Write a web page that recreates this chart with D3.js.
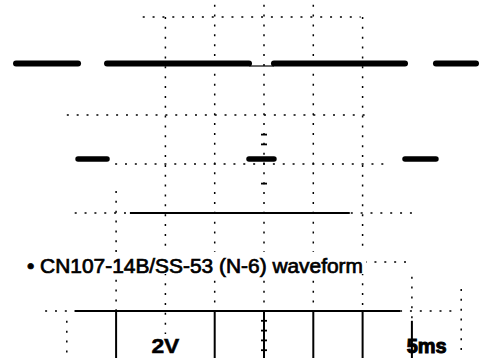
<!DOCTYPE html>
<html>
<head>
<meta charset="utf-8">
<script src="https://cdn.jsdelivr.net/npm/d3@7"></script>
<style>
  html, body { margin: 0; padding: 0; background: #fff; }
  svg { display: block; }
</style>
</head>
<body>
<svg id="scope"></svg>
<script>
// waveform: step edges in ms, level in volts between consecutive edges
const stepTimes = [-25.15, -18.86, -15.92, -1.52, 1.01, 14.30, 17.44, 21.50];
const stepVolts = [4.1, 0.2, 4.1, 0.2, 4.1, 0.2, 4.1];

// graticule (5 ms/div, 2 V/div)
const timeDivs = [-20, -15, -10, -5, 0, 5, 10, 15, 20];
const voltDivs = [6, 4, 2, 0, -2, -4, -6];

// readout labels
const voltsPerDiv = "2V";
const timePerDiv = "5ms";
const caption = "• CN107-14B/SS-53 (N-6) waveform";

const W = 489, H = 358;
const svg = d3.select("#scope").attr("width", W).attr("height", H);

const x = d3.scaleLinear().domain([-25, 25]).range([17.5, 510.5]);
const y = d3.scaleLinear().domain([-6, 6]).range([311, 17]);

// what survived of each graticule line in the print (data units)
const vVis = {
  "-20": { dot: [-6.4, -8] },
  "-15": { dot: [-1.1, -6], solid: [-6, -8] },
  "-10": { dot: [6, -8] },
  "-5":  { dot: [6.5, -6], solid: [-6, -8] },
  "0":   { dot: [6.5, -6], solid: [-6, -8] },
  "5":   { dot: [6.5, -6], solid: [-6, -8] },
  "10":  { dot: [6, -6], solid: [-6, -8] },
  "15":  { dot: [-4.6, -6.4], solid: [-6.4, -8] },
  "20":  { dot: [-5.1, -8] }
};
const hVis = {
  "6":  { dot: [-12.3, 9.8] },
  "4":  { thin: [-1.5, 1.0] },
  "2":  { dot: [-20, 10.8] },
  "0":  { dot: [-15.1, 12.8] },
  "-2": { dot: [-19.2, 15.8], solid: [-13.6, 8.7] },
  "-4": { dot: [10.2, 15] },
  "-6": { dot: [-22.2, 19.4], solid: [-19.2, 13.8] }
};

const grid = svg.append("g").attr("class", "graticule");

timeDivs.forEach(t => {
  const v = vVis[String(t)];
  if (v.dot) grid.append("line")
    .attr("x1", x(t)).attr("x2", x(t))
    .attr("y1", y(v.dot[0])).attr("y2", y(v.dot[1]))
    .attr("stroke", "#000").attr("stroke-width", 1.5)
    .style("stroke-dasharray", "2,7.86");
  if (v.solid) grid.append("line")
    .attr("x1", x(t)).attr("x2", x(t))
    .attr("y1", y(v.solid[0])).attr("y2", y(v.solid[1]))
    .attr("stroke", "#000").attr("stroke-width", 2);
});

voltDivs.forEach(vv => {
  const h = hVis[String(vv)];
  if (h.dot) grid.append("line")
    .attr("x1", x(h.dot[0])).attr("x2", x(h.dot[1]))
    .attr("y1", y(vv)).attr("y2", y(vv))
    .attr("stroke", "#000").attr("stroke-width", 1.5)
    .style("stroke-dasharray", "2,7.86");
  if (h.thin) grid.append("line")
    .attr("x1", x(h.thin[0])).attr("x2", x(h.thin[1]))
    .attr("y1", y(vv)).attr("y2", y(vv))
    .attr("stroke", "#000").attr("stroke-width", 1.2);
  if (h.solid) grid.append("line")
    .attr("x1", x(h.solid[0])).attr("x2", x(h.solid[1]))
    .attr("y1", y(vv)).attr("y2", y(vv))
    .attr("stroke", "#000").attr("stroke-width", 1.8);
});

// minor ticks on the centre axis (5 per division)
const minorV = d3.range(-7.6, -6.0, 0.4).concat([-0.8, 0.8, 1.2]);
grid.selectAll(".mtick").data(minorV).enter()
  .append("line").attr("class", "mtick")
  .attr("x1", x(0) - 3).attr("x2", x(0) + 3)
  .attr("y1", d => y(d)).attr("y2", d => y(d))
  .attr("stroke", "#000").attr("stroke-width", 1.8);

// waveform: only the flat parts show, edges are too fast to print
const segs = stepVolts.map((v, i) => ({ t0: stepTimes[i], t1: stepTimes[i + 1], v }));
svg.append("g").attr("class", "trace")
  .selectAll("line").data(segs).enter()
  .append("line")
  .attr("x1", d => x(d.t0)).attr("x2", d => x(d.t1))
  .attr("y1", d => y(d.v)).attr("y2", d => y(d.v))
  .attr("stroke", "#000")
  .attr("stroke-width", d => d.v > 2 ? 6 : 5.5)
  .attr("stroke-linecap", "round");

// caption over the -4 V line
svg.append("rect")
  .attr("x", 24).attr("y", 252).attr("width", 342).attr("height", 22)
  .attr("fill", "#fff");
svg.append("text")
  .attr("x", 27).attr("y", 273)
  .attr("textLength", 336).attr("lengthAdjust", "spacingAndGlyphs")
  .style("font-family", "'Liberation Sans', Arial, sans-serif")
  .style("font-size", "20px")
  .attr("fill", "#000").attr("stroke", "#000").attr("stroke-width", 0.7)
  .text(caption);

// readout
const ro = svg.append("g").attr("class", "readout")
  .style("font-family", "'Liberation Sans', Arial, sans-serif")
  .style("font-weight", "bold")
  .style("font-size", "21px")
  .attr("text-anchor", "middle");
ro.append("rect").attr("x", 150).attr("y", 334).attr("width", 32).attr("height", 22).attr("fill", "#fff");
ro.append("text").attr("x", x(-10)).attr("y", 353)
  .attr("textLength", 28).attr("lengthAdjust", "spacingAndGlyphs")
  .attr("stroke", "#000").attr("stroke-width", 0.5)
  .text(voltsPerDiv);
ro.append("text").attr("x", x(16.5)).attr("y", 353)
  .attr("textLength", 40).attr("lengthAdjust", "spacingAndGlyphs")
  .attr("stroke", "#000").attr("stroke-width", 1)
  .text(timePerDiv);
</script>
</body>
</html>
